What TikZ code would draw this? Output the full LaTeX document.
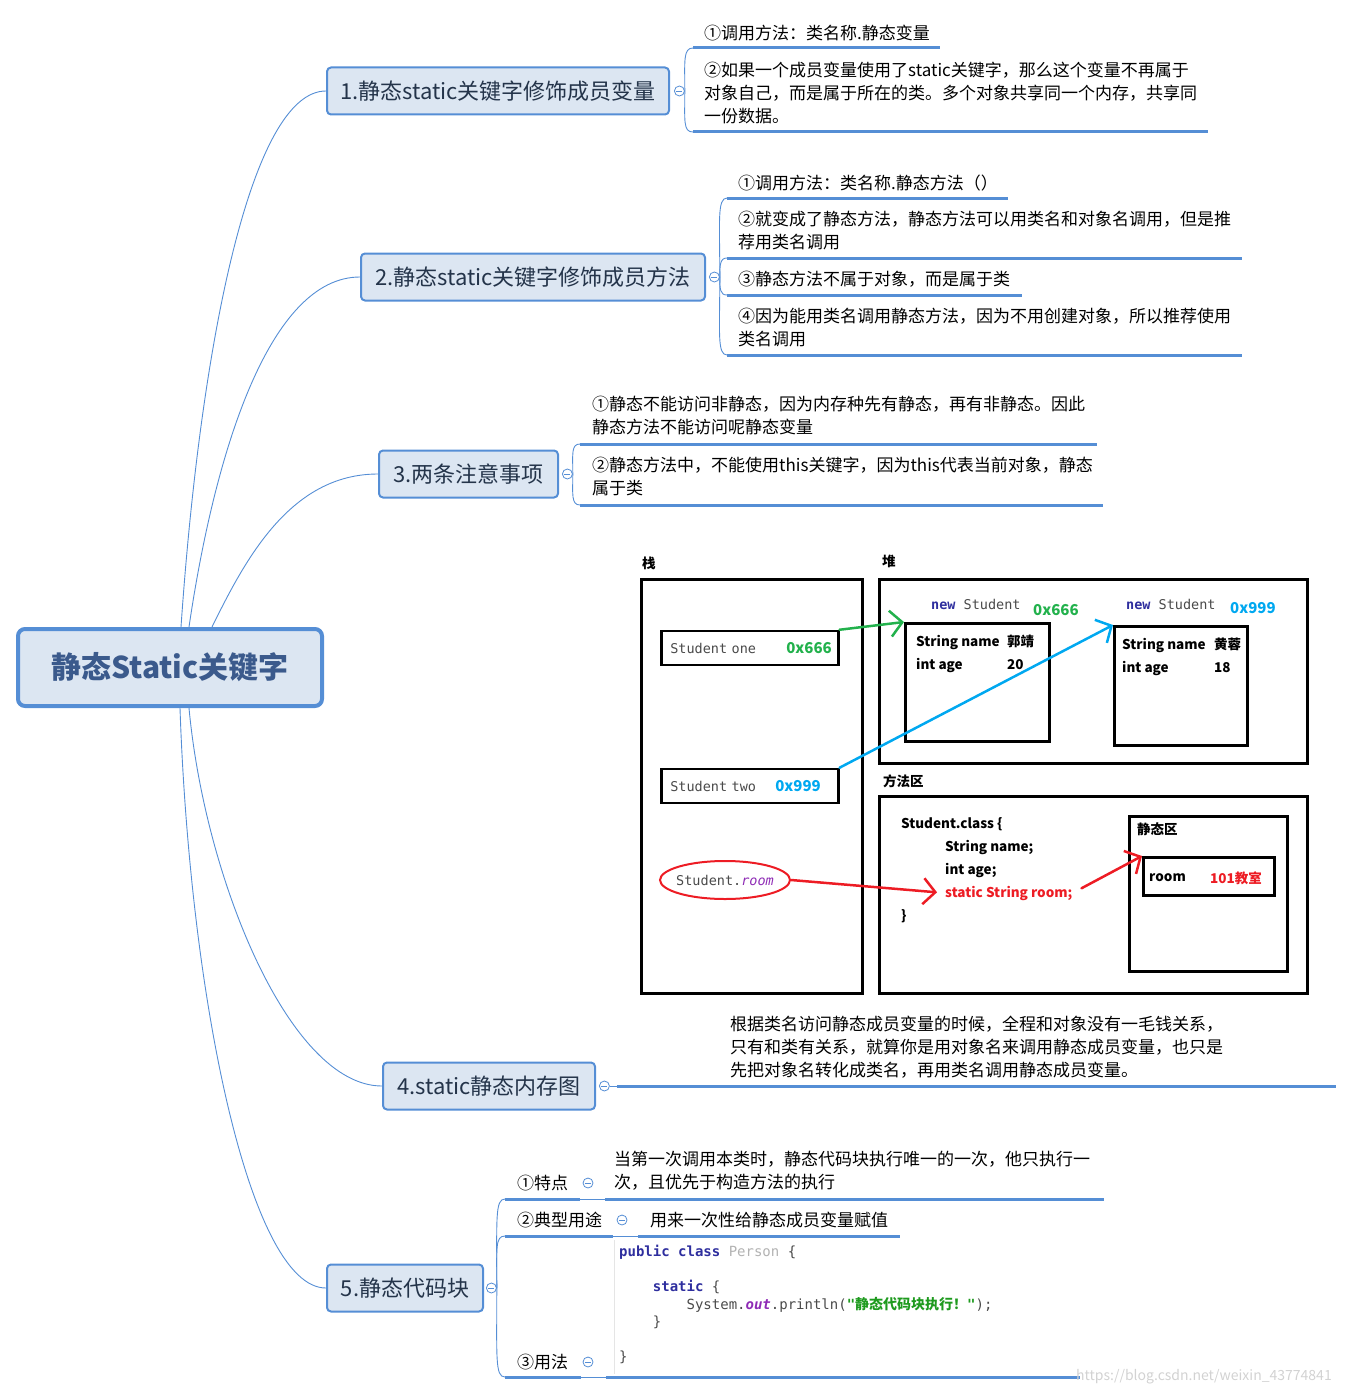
\documentclass[tikz,border=0pt]{standalone}
\usepackage{fontspec}
\setmainfont{Noto Sans CJK SC}
\newfontfamily\cjk{Noto Sans CJK SC}
\setmonofont{DejaVu Sans Mono}
\usetikzlibrary{arrows.meta}
\usetikzlibrary{shapes.geometric}
\usetikzlibrary{positioning}

\definecolor{mmblue}{HTML}{558ED5}
\definecolor{mmfill}{HTML}{DCE6F2}
\definecolor{roottext}{HTML}{3B5A8C}
\definecolor{branchtext}{HTML}{24344A}
\definecolor{penred}{HTML}{ED1C24}
\definecolor{pengreen}{HTML}{22B14C}
\definecolor{pencyan}{HTML}{00A8F0}
\definecolor{kwblue}{HTML}{2E2E9E}
\definecolor{strgreen}{HTML}{1E9A1E}
\definecolor{fieldpurple}{HTML}{8E2BB5}
\definecolor{codegray}{HTML}{4A4A4A}

\newcommand{\fs}[2]{\fontsize{#1}{#2}\selectfont}

\begin{document}
\begin{tikzpicture}[x=1pt,y=-1pt,
  rootbox/.style={draw=mmblue,line width=4,fill=mmfill,rounded corners=7,minimum width=304,minimum height=77,text=roottext,font=\bfseries\fs{30}{34}},
  topic/.style={draw=mmblue,line width=2,fill=mmfill,rounded corners=4,minimum height=47,anchor=west,text=branchtext,font=\fs{22}{26}},
  fold/.style={circle,draw=mmblue,fill=white,line width=0.8,minimum size=10,inner sep=0,
    path picture={\draw[mmblue,line width=0.8] ([xshift=-3]path picture bounding box.center) -- ([xshift=3]path picture bounding box.center);}},
  leaf/.style={anchor=west,align=left,inner sep=0,font=\fs{17}{23}},
  uline/.style={mmblue,line width=3},
  link/.style={mmblue,line width=0.9},
  membox/.style={draw,line width=2.5,inner sep=0},
  memlabel/.style={anchor=west,inner sep=0,font=\bfseries\fs{13.5}{16}},
  memtext/.style={anchor=west,align=left,inner sep=0,font=\bfseries\fs{13.5}{23}},
  addr/.style={anchor=west,inner sep=0,font=\bfseries\fs{15}{16}},
  codetext/.style={anchor=west,inner sep=0,font=\ttfamily\fs{13.5}{16},text=codegray},
  pen/.style={line width=2.5,line cap=round,-{Straight Barb[length=12pt,width=26pt]}}]

\useasboundingbox (0,0) rectangle (1354,1394);

% root and main topics
\node[rootbox] (root) at (170,667.5) {静态Static关键字};
\node[topic,minimum width=342] (b1) at (326,91) {1.静态static关键字修饰成员变量};
\node[topic,minimum width=344] (b2) at (360,277) {2.静态static关键字修饰成员方法};
\node[topic,minimum width=179] (b3) at (378,474) {3.两条注意事项};
\node[topic,minimum width=212] (b4) at (382,1086) {4.static静态内存图};
\node[topic,minimum width=156] (b5) at (326,1288) {5.静态代码块};

\draw[link] ([xshift=11]root.north) .. controls (200,350) and (250,91) .. (b1.west);
\draw[link] ([xshift=19]root.north) .. controls (215,450) and (270,277) .. (b2.west);
\draw[link] ([xshift=42]root.north) .. controls (245,560) and (290,474) .. (b3.west);
\draw[link] ([xshift=19]root.south) .. controls (205,880) and (290,1086) .. (b4.west);
\draw[link] ([xshift=10]root.south) .. controls (190,1000) and (250,1288) .. (b5.west);

\node[fold,right=4pt of b1] (f1) {};
\node[fold,right=3pt of b2] (f2) {};
\node[fold,right=3pt of b3] (f3) {};
\node[fold,right=3pt of b4] (f4) {};
\node[fold,right=2pt of b5] (f5) {};

% topic 1
\coordinate (u11) at (693,48);
\coordinate (u12) at (693,132);
\node[leaf] (l11) at (704,33) {①调用方法：类名称.静态变量};
\node[leaf] (l12) at (704,93) {②如果一个成员变量使用了static关键字，那么这个变量不再属于\\对象自己，而是属于所在的类。多个对象共享同一个内存，共享同\\一份数据。};
\draw[uline] (u11) -- ++(247,0);
\draw[uline] (u12) -- ++(515,0);
\draw[link] (f1.east) .. controls +(0,-30) and +(-10,0) .. (u11);
\draw[link] (f1.east) .. controls +(0,30) and +(-10,0) .. (u12);

% topic 2
\coordinate (u21) at (727,198);
\coordinate (u22) at (727,258);
\coordinate (u23) at (727,295);
\coordinate (u24) at (727,355);
\node[leaf] (l21) at (738,183) {①调用方法：类名称.静态方法（）};
\node[leaf] (l22) at (738,231) {②就变成了静态方法，静态方法可以用类名和对象名调用，但是推\\荐用类名调用};
\node[leaf] (l23) at (738,279) {③静态方法不属于对象，而是属于类};
\node[leaf] (l24) at (738,328) {④因为能用类名调用静态方法，因为不用创建对象，所以推荐使用\\类名调用};
\draw[uline] (u21) -- ++(281,0);
\draw[uline] (u22) -- ++(515,0);
\draw[uline] (u23) -- ++(295,0);
\draw[uline] (u24) -- ++(515,0);
\draw[link] (f2.east) .. controls +(0,-55) and +(-10,0) .. (u21);
\draw[link] (f2.east) .. controls +(0,-12) and +(-7,0) .. (u22);
\draw[link] (f2.east) .. controls +(0,12) and +(-7,0) .. (u23);
\draw[link] (f2.east) .. controls +(0,55) and +(-10,0) .. (u24);

% topic 3
\coordinate (u31) at (580,444);
\coordinate (u32) at (580,505);
\node[leaf] (l31) at (592,416) {①静态不能访问非静态，因为内存种先有静态，再有非静态。因此\\静态方法不能访问呢静态变量};
\node[leaf] (l32) at (592,476) {②静态方法中，不能使用this关键字，因为this代表当前对象，静态\\属于类};
\draw[uline] (u31) -- ++(517,0);
\draw[uline] (u32) -- ++(523,0);
\draw[link] (f3.east) .. controls +(0,-20) and +(-9,0) .. (u31);
\draw[link] (f3.east) .. controls +(0,20) and +(-9,0) .. (u32);

% topic 4: memory picture
\coordinate (u41) at (617,1086);
\draw[link] (f4.east) -- (u41);
\draw[uline] (u41) -- ++(719,0);
\node[leaf] (l41) at (730,1047) {根据类名访问静态成员变量的时候，全程和对象没有一毛钱关系，\\只有和类有关系，就算你是用对象名来调用静态成员变量，也只是\\先把对象名转化成类名，再用类名调用静态成员变量。};

\node[memlabel] (stacklbl) at (642,563) {栈};
\node[membox,anchor=north west,minimum width=221,minimum height=414] (stack) at (640,578) {};
\node[memlabel] (heaplbl) at (882,561) {堆};
\node[membox,anchor=north west,minimum width=428,minimum height=184] (heap) at (878,578) {};
\node[memlabel] (methlbl) at (883,781) {方法区};
\node[membox,anchor=north west,minimum width=428,minimum height=197] (method) at (878,795) {};

\node[membox,anchor=west,minimum height=34,text width=159,inner xsep=9,font=\ttfamily\fs{13.5}{16},text=codegray] (sone) at (660,648) {\makebox[116pt][l]{Student one}\textcolor{pengreen}{\rmfamily\bfseries\fs{15}{16}0x666}};
\node[membox,anchor=west,minimum height=34,text width=159,inner xsep=9,font=\ttfamily\fs{13.5}{16},text=codegray] (stwo) at (660,786) {\makebox[105pt][l]{Student two}\textcolor{pencyan}{\rmfamily\bfseries\fs{15}{16}0x999}};
\node[ellipse,draw=penred,line width=2,minimum width=130,minimum height=38,inner xsep=-5,inner ysep=0,font=\ttfamily\fs{13.5}{16},text=codegray] (sroom) at (725,880) {Student.\textcolor{fieldpurple}{\itshape room}};

\node[membox,anchor=north west,minimum width=144,minimum height=118] (obj1) at (904,622) {};
\node[membox,anchor=north west,minimum width=133,minimum height=119] (obj2) at (1113,625) {};
\node[codetext] (new1) at (931,604) {\textcolor{kwblue}{\bfseries new} Student};
\node[addr,text=pengreen] (addr1) at (1033,610) {0x666};
\node[codetext] (new2) at (1126,604) {\textcolor{kwblue}{\bfseries new} Student};
\node[addr,text=pencyan] (addr2) at (1230,608) {0x999};
\node[memtext] (obj1txt) at (916,653.5) {\makebox[91pt][l]{String name}郭靖\\\makebox[91pt][l]{int age}20};
\node[memtext] (obj2txt) at (1122,656.5) {\makebox[92pt][l]{String name}黄蓉\\\makebox[92pt][l]{int age}18};

\node[memtext] (cls) at (901,824) {Student.class \{};
\node[memtext] (fname) at (945,847) {String name;};
\node[memtext] (fage) at (945,870) {int age;};
\node[memtext,text=penred] (sfield) at (945,893) {static String room;};
\node[memtext] (clsend) at (901,916) {\}};
\node[membox,anchor=north west,minimum width=158,minimum height=155] (staticarea) at (1128,815) {};
\node[memlabel] (staticlbl) at (1137,829) {静态区};
\node[membox,anchor=north west,minimum width=131,minimum height=38] (roombox) at (1142,856) {};
\node[memtext] (roomname) at (1149,878) {room};
\node[memtext,text=penred] (roomval) at (1210,878) {101教室};

\draw[pen,pengreen] (sone.north east) -- (obj1.north west);
\draw[pen,pencyan] (stwo.north east) -- (obj2.north west);
\draw[pen,penred,shorten >=8pt] (sroom.east) -- (sfield.west);
\draw[pen,penred,shorten <=10pt] (sfield.east) -- (roombox.north west);

% topic 5
\coordinate (u51) at (505,1199);
\coordinate (e51) at (580,1199);
\coordinate (c51) at (605,1199);
\coordinate (u52) at (505,1236);
\coordinate (e52) at (613,1236);
\coordinate (c52) at (638,1236);
\coordinate (u53) at (505,1377);
\coordinate (e53) at (581,1377);
\coordinate (c53) at (606,1377);
\node[leaf] (p51) at (517,1183) {①特点};
\node[leaf] (p52) at (517,1220) {②典型用途};
\node[leaf] (p53) at (517,1362) {③用法};
\node[fold] (f51) at (588,1183) {};
\node[fold] (f52) at (622,1220) {};
\node[fold] (f53) at (588,1362) {};
\node[leaf] (l51) at (614,1171) {当第一次调用本类时，静态代码块执行唯一的一次，他只执行一\\次，且优先于构造方法的执行};
\node[leaf] (l52) at (650,1220) {用来一次性给静态成员变量赋值};
\draw[uline] (u51) -- (e51);
\draw[uline] (c51) -- ++(499,0);
\draw[uline] (u52) -- (e52);
\draw[uline] (c52) -- ++(262,0);
\draw[uline] (u53) -- (e53);
\draw[uline] (c53) -- ++(474,0);
\draw[link] (e51) -- (c51);
\draw[link] (e52) -- (c52);
\draw[link] (e53) -- (c53);
\draw[link] (f5.east) .. controls +(0,-70) and +(-10,0) .. (u51);
\draw[link] (f5.east) .. controls +(0,-40) and +(-10,0) .. (u52);
\draw[link] (f5.east) .. controls +(0,70) and +(-10,0) .. (u53);

\draw[gray!20] (614,1240) -- (614,1374);
\node[anchor=west,align=left,inner sep=0,font=\ttfamily\fs{14}{17.5},text=codegray] (code) at (619,1304.5) {%
\textcolor{kwblue}{\bfseries public class} \textcolor{gray!60}{Person} \{\\[17.5pt]
\phantom{xxxx}\textcolor{kwblue}{\bfseries static} \{\\
\phantom{xxxxxxxx}System.\textcolor{fieldpurple}{\bfseries\itshape out}.println(\textcolor{strgreen}{\bfseries"{\cjk\bfseries 静态代码块执行！}"});\\
\phantom{xxxx}\}\\[17.5pt]
\}};

\node[anchor=west,inner sep=0,font=\fs{14}{16},text=gray!35] (mark) at (1076,1377) {https://blog.csdn.net/weixin\_43774841};

\end{tikzpicture}
\end{document}
